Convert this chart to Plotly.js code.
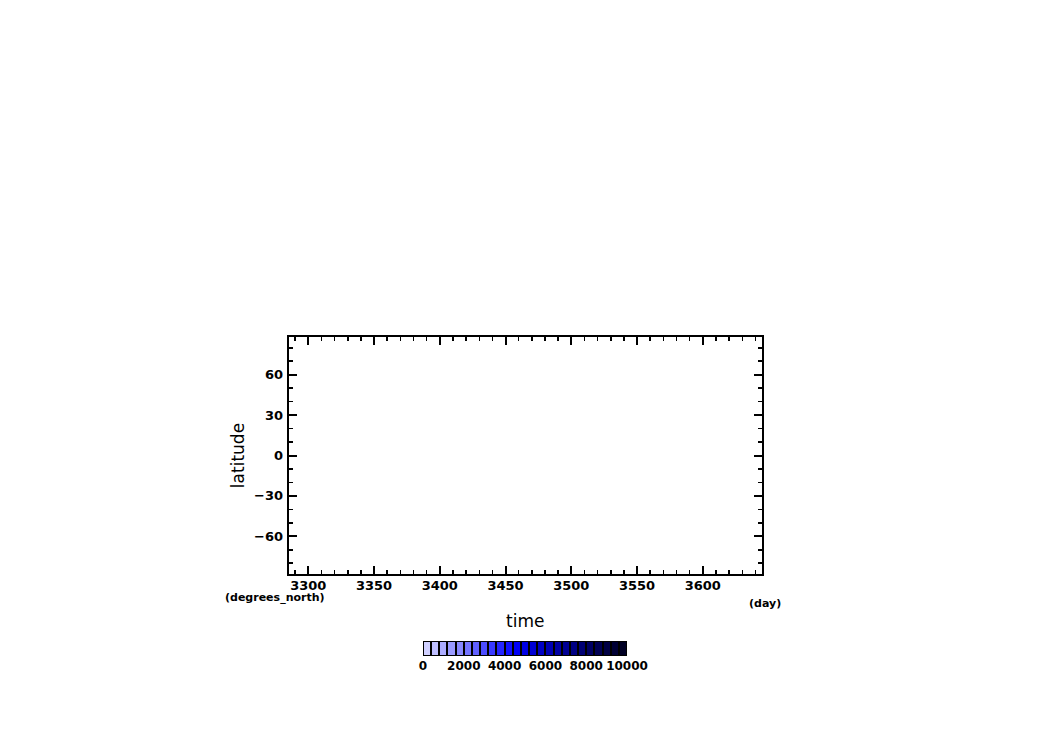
<!DOCTYPE html>
<html>
<head>
<meta charset="utf-8">
<script src="https://cdn.plot.ly/plotly-3.0.1.min.js"></script>
<style>html,body{margin:0;padding:0;background:#fff;}#chart{width:1050px;height:742px;}</style>
</head>
<body>
<div id="chart"></div>
<script>
// Axis extents (days, degrees north)
var timeRange = [3285, 3645];
var latRange = [-88, 88];
var xTicks = [3300, 3350, 3400, 3450, 3500, 3550, 3600];
var yTicks = [-60, -30, 0, 30, 60];
var yTickText = ['\u221260', '\u221230', '0', '30', '60'];
// The field itself has no valid values in the reference: empty series
var timeValues = [];
var latValues = [];
// Colour levels of the field
var levelEdges = [0,400,800,1200,1600,2000,2400,2800,3200,3600,4000,4400,4800,5200,5600,6000,6400,6800,7200,7600,8000,8400,8800,9200,9600,10000];
var levelColors = ['#d0d0ff','#bebeff','#acacff','#9a9aff','#8888ff','#7474ff','#6060ff','#4c4cff','#3838ff','#2424ff',
  '#1010ff','#0000f4','#0000e4','#0000d4','#0000c4','#0000b4','#0000a4','#000094','#000084','#000074',
  '#000064','#000054','#000044','#000034','#000024'];
var cbTicks = [0, 2000, 4000, 6000, 8000, 10000];
var cbTickText = ['0', '2000', '4000', '6000', '8000', '10000'];

var mids = [], idx = [], scale = [];
for (var i = 0; i < levelColors.length; i++) {
  mids.push((levelEdges[i] + levelEdges[i+1]) / 2);
  idx.push(i);
  scale.push([i / (levelColors.length - 1), levelColors[i]]);
}

var traces = [
  {type: 'scatter', mode: 'markers', x: timeValues, y: latValues, xaxis: 'x', yaxis: 'y', hoverinfo: 'skip'},
  {
    type: 'heatmap',
    x: mids, y: [0], z: [idx],
    xaxis: 'x2', yaxis: 'y2',
    colorscale: scale, zmin: 0, zmax: levelColors.length - 1,
    showscale: false, xgap: 2, ygap: 2, hoverinfo: 'skip'
  }
];

var layout = {
  width: 1050, height: 742,
  margin: {l: 0, r: 0, t: 0, b: 0},
  paper_bgcolor: '#fff', plot_bgcolor: 'rgba(0,0,0,0)',
  showlegend: false,
  font: {family: 'DejaVu Sans, sans-serif', size: 12, color: '#000', weight: 'bold'},
  xaxis: {
    domain: [288.6/1050, 762/1050], range: timeRange, anchor: 'y',
    tickvals: xTicks, ticks: 'inside', ticklen: 8, tickwidth: 2, tickcolor: '#000',
    minor: {dtick: 10, ticks: 'inside', ticklen: 4, tickwidth: 1.5, tickcolor: '#000', showgrid: false},
    showline: true, linewidth: 2, linecolor: '#000', mirror: 'ticks',
    showgrid: false, zeroline: false, tickfont: {size: 13, weight: 'bold'},
    ticklabelstandoff: -2,
    title: {text: 'time', font: {size: 17, weight: 'normal'}, standoff: 24}
  },
  yaxis: {
    domain: [1 - 574/742, 1 - 337/742], range: latRange, anchor: 'x',
    tickvals: yTicks, ticktext: yTickText,
    ticks: 'inside', ticklen: 8, tickwidth: 2, tickcolor: '#000',
    minor: {dtick: 10, ticks: 'inside', ticklen: 4, tickwidth: 1.5, tickcolor: '#000', showgrid: false},
    showline: true, linewidth: 2, linecolor: '#000', mirror: 'ticks',
    showgrid: false, zeroline: false, tickfont: {size: 13, weight: 'bold'},
    ticklabelstandoff: 1,
    title: {text: 'latitude', font: {size: 17, weight: 'normal'}, standoff: 5}
  },
  xaxis2: {
    domain: [423/1050, 627/1050], range: [0, 10000], anchor: 'y2',
    tickvals: cbTicks, ticktext: cbTickText, ticks: '', showline: false, showgrid: false, zeroline: false,
    tickfont: {size: 12, weight: 'bold'}, ticklabelstandoff: 1
  },
  yaxis2: {
    domain: [1 - 656/742, 1 - 641/742], range: [-0.5, 0.5], anchor: 'x2',
    showticklabels: false, ticks: '', showline: false, showgrid: false, zeroline: false
  },
  shapes: [{
    type: 'rect', xref: 'x2', yref: 'y2', x0: 0, x1: 10000, y0: -0.5, y1: 0.5,
    layer: 'below', fillcolor: '#000', line: {color: '#000', width: 1.5}
  }],
  annotations: [
    {text: '(degrees_north)', xref: 'paper', yref: 'paper', x: 275/1050, y: 1 - 597/742,
     showarrow: false, xanchor: 'center', yanchor: 'middle', font: {size: 11, weight: 'bold'}},
    {text: '(day)', xref: 'paper', yref: 'paper', x: 765/1050, y: 1 - 603/742,
     showarrow: false, xanchor: 'center', yanchor: 'middle', font: {size: 11, weight: 'bold'}}
  ]
};

Plotly.newPlot('chart', traces, layout, {displayModeBar: false, staticPlot: true});
</script>
</body>
</html>
